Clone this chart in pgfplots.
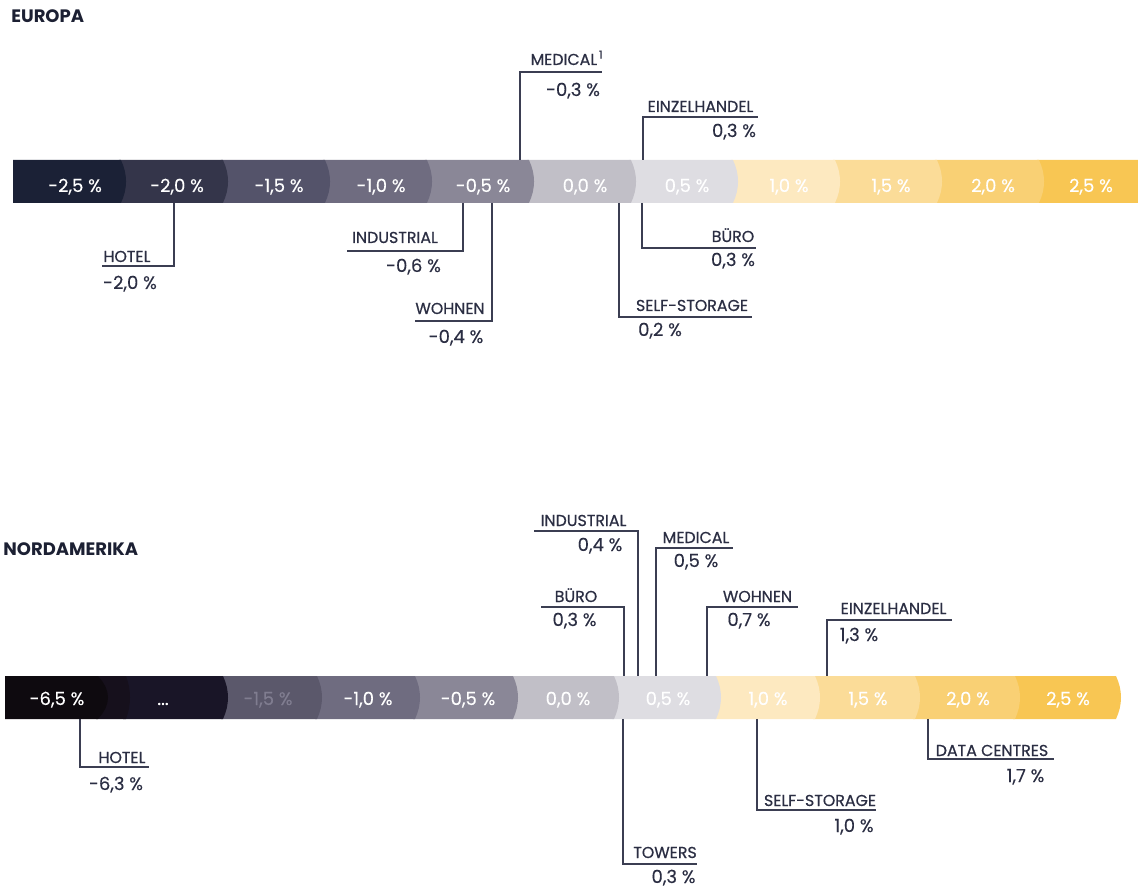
\documentclass[border=0pt]{standalone}
\usepackage{pgfplots}
\pgfplotsset{compat=1.18}
\usepackage{fontspec}
\setmainfont{Poppins}
\newfontfamily\labfam{Poppins}[FakeBold=0.6]
\newfontfamily\valfam{Poppins}[FakeBold=0.2]

\definecolor{e1}{HTML}{1B2136}
\definecolor{e2}{HTML}{34354A}
\definecolor{e3}{HTML}{54536A}
\definecolor{e4}{HTML}{6F6C80}
\definecolor{e5}{HTML}{8A8797}
\definecolor{e6}{HTML}{C1BFC7}
\definecolor{e7}{HTML}{DEDDE2}
\definecolor{e8}{HTML}{FDE9C0}
\definecolor{e9}{HTML}{FBDC98}
\definecolor{e10}{HTML}{F9D074}
\definecolor{e11}{HTML}{F8C653}
\definecolor{n1}{HTML}{0E0A0F}
\definecolor{n1b}{HTML}{16101C}
\definecolor{n2}{HTML}{191527}
\definecolor{n3}{HTML}{5B586B}
\definecolor{n4}{HTML}{757284}
\definecolor{n5}{HTML}{8D8A99}
\definecolor{labc}{HTML}{2B2E43}
\definecolor{linec}{HTML}{3B3E52}
\definecolor{ttlc}{HTML}{1C2033}
\definecolor{dimtxt}{HTML}{807D90}

\newcommand\lab{\labfam\fontsize{9.5}{10}\selectfont}
\newcommand\val{\valfam\fontsize{10.8}{11}\selectfont}
\newcommand\segf{\valfam\fontsize{10.8}{11}\selectfont}
\newcommand\ttl{\fontsize{10.8}{11}\selectfont\bfseries}

% segment: #1 left, #2 apex of curved right edge, #3 bulge, #4 top row, #5 bottom row, #6 colour
\newcommand\seg[6]{%
  \pgfmathsetmacro\SegA{#2-#3}%
  \pgfmathsetmacro\SegB{#2-0.5625*#3}%
  \pgfmathsetmacro\SegC{#2-0.25*#3}%
  \pgfmathsetmacro\SegD{#2-0.0625*#3}%
  \pgfmathsetmacro\YA{#4+0.125*(#5-#4)}%
  \pgfmathsetmacro\YB{#4+0.25*(#5-#4)}%
  \pgfmathsetmacro\YC{#4+0.375*(#5-#4)}%
  \pgfmathsetmacro\YM{#4+0.5*(#5-#4)}%
  \pgfmathsetmacro\YD{#4+0.625*(#5-#4)}%
  \pgfmathsetmacro\YE{#4+0.75*(#5-#4)}%
  \pgfmathsetmacro\YF{#4+0.875*(#5-#4)}%
  \addplot[fill=#6, draw=none, forget plot] coordinates {(#1,#4) (\SegA,#4) (\SegB,\YA) (\SegC,\YB) (\SegD,\YC) (#2,\YM) (\SegD,\YD) (\SegC,\YE) (\SegB,\YF) (\SegA,#5) (#1,#5)} --cycle;%
}

\begin{document}
\begin{tikzpicture}[S/.style={anchor=base, inner sep=0, text=white, font=\segf}]
\useasboundingbox (0,0) rectangle (682.8pt,532.8pt);

% ---------------- EUROPA ----------------
\begin{axis}[at={(0,0)}, anchor=south west, width=682.8pt, height=532.8pt,
  scale only axis, hide axis, clip=false,
  xmin=-2.8578, xmax=2.7206, ymin=0, ymax=888, y dir=reverse]
\seg{2.225}{2.76}{0.025}{160}{203}{e11}
\seg{1.725}{2.26}{0.025}{160}{203}{e10}
\seg{1.225}{1.76}{0.025}{160}{203}{e9}
\seg{0.725}{1.26}{0.025}{160}{203}{e8}
\seg{0.225}{0.76}{0.025}{160}{203}{e7}
\seg{-0.275}{0.26}{0.025}{160}{203}{e6}
\seg{-0.775}{-0.24}{0.025}{160}{203}{e5}
\seg{-1.275}{-0.74}{0.025}{160}{203}{e4}
\seg{-1.775}{-1.24}{0.025}{160}{203}{e3}
\seg{-2.275}{-1.74}{0.025}{160}{203}{e2}
\seg{-2.794}{-2.24}{0.025}{160}{203}{e1}
\node[S] at (axis cs:-2.49,192) {-2,5 \%};
\node[S] at (axis cs:-1.99,192) {-2,0 \%};
\node[S] at (axis cs:-1.49,192) {-1,5 \%};
\node[S] at (axis cs:-0.99,192) {-1,0 \%};
\node[S] at (axis cs:-0.49,192) {-0,5 \%};
\node[S] at (axis cs:0.01,192) {0,0 \%};
\node[S] at (axis cs:0.51,192) {0,5 \%};
\node[S] at (axis cs:1.01,192) {1,0 \%};
\node[S] at (axis cs:1.51,192) {1,5 \%};
\node[S] at (axis cs:2.01,192) {2,0 \%};
\node[S] at (axis cs:2.49,192) {2,5 \%};
% callout anchors on the bar (value positions as read)
\coordinate (eMed)  at (axis cs:-0.309,160);
\coordinate (eEinz) at (axis cs:0.294,160);
\coordinate (eHot)  at (axis cs:-2.005,203);
\coordinate (eInd)  at (axis cs:-0.588,203);
\coordinate (eWoh)  at (axis cs:-0.446,203);
\coordinate (eSelf) at (axis cs:0.176,203);
\coordinate (eBur)  at (axis cs:0.289,203);
\end{axis}

% ---------------- NORDAMERIKA ----------------
\begin{axis}[at={(0,0)}, anchor=south west, width=682.8pt, height=532.8pt,
  scale only axis, hide axis, clip=false,
  xmin=-2.84, xmax=2.85, ymin=0, ymax=888, y dir=reverse]
\seg{2.225}{2.765}{0.025}{676}{719}{e11}
\seg{1.725}{2.26}{0.025}{676}{719}{e10}
\seg{1.225}{1.76}{0.025}{676}{719}{e9}
\seg{0.730}{1.26}{0.025}{676}{719}{e8}
\seg{0.220}{0.765}{0.025}{676}{719}{e7}
\seg{-0.285}{0.255}{0.025}{676}{719}{e6}
\seg{-0.775}{-0.25}{0.025}{676}{719}{e5}
\seg{-1.265}{-0.74}{0.025}{676}{719}{e4}
\seg{-1.735}{-1.23}{0.025}{676}{719}{n3}
\seg{-2.225}{-1.70}{0.025}{676}{719}{n2}
\seg{-2.36}{-2.19}{0.02}{676}{719}{n1b}
\seg{-2.815}{-2.30}{0.05}{676}{719}{n1}
% broken scale: -6,5 and ... occupy the first two slots
\node[S] at (axis cs:-2.555,705) {-6,5 \%};
\node[S] at (axis cs:-2.025,705) {...};
\node[S, text=dimtxt] at (axis cs:-1.5,705) {-1,5 \%};
\node[S] at (axis cs:-1.0,705) {-1,0 \%};
\node[S] at (axis cs:-0.5,705) {-0,5 \%};
\node[S] at (axis cs:0.0,705) {0,0 \%};
\node[S] at (axis cs:0.5,705) {0,5 \%};
\node[S] at (axis cs:1.0,705) {1,0 \%};
\node[S] at (axis cs:1.5,705) {1,5 \%};
\node[S] at (axis cs:2.0,705) {2,0 \%};
\node[S] at (axis cs:2.5,705) {2,5 \%};
\coordinate (nInd)  at (axis cs:0.35,676);
\coordinate (nMed)  at (axis cs:0.44,676);
\coordinate (nBur)  at (axis cs:0.28,676);
\coordinate (nWoh)  at (axis cs:0.695,676);
\coordinate (nEinz) at (axis cs:1.295,676);
\coordinate (nHot)  at (axis cs:-2.44,719);
\coordinate (nTow)  at (axis cs:0.275,719);
\coordinate (nSelf) at (axis cs:0.945,719);
\coordinate (nData) at (axis cs:1.80,719);
\end{axis}

% ---------------- callouts and titles (pixel layout) ----------------
\begin{scope}[x=0.6pt, y=-0.6pt, yshift=532.8pt,
  ldr/.style={draw=linec, line width=1.1pt},
  L/.style={anchor=base, inner sep=0, text=labc, font=\lab},
  V/.style={anchor=base, inner sep=0, text=labc, font=\val}]
\node[anchor=base west, inner sep=0, text=ttlc, font=\ttl] at (11,23) {EUROPA};
\node[anchor=base west, inner sep=0, text=ttlc, font=\ttl] at (3,555) {NORDAMERIKA};

\draw[ldr] (eMed) |- (602,72);
\node[L] at (567,65) {MEDICAL\textsuperscript{\,1}};
\node[V] at (573,96) {-0,3 \%};
\draw[ldr] (eEinz) |- (758,117);
\node[L] at (700.5,112) {EINZELHANDEL};
\node[V] at (734,137) {0,3 \%};
\draw[ldr] (eHot) |- (102,266);
\node[L] at (127,262) {HOTEL};
\node[V] at (130,289) {-2,0 \%};
\draw[ldr] (eInd) |- (347,251);
\node[L] at (395,243) {INDUSTRIAL};
\node[V] at (413.5,272) {-0,6 \%};
\draw[ldr] (eWoh) |- (415,321);
\node[L] at (450,314) {WOHNEN};
\node[V] at (456,343) {-0,4 \%};
\draw[ldr] (eBur) |- (756,248);
\node[L] at (733,242) {BÜRO};
\node[V] at (733,266) {0,3 \%};
\draw[ldr] (eSelf) |- (752,317);
\node[L] at (692,311) {SELF-STORAGE};
\node[V] at (660,336) {0,2 \%};

\draw[ldr] (nInd) |- (534,531);
\node[L] at (583.5,526) {INDUSTRIAL};
\node[V] at (600,551) {0,4 \%};
\draw[ldr] (nMed) |- (733,548);
\node[L] at (696,543) {MEDICAL};
\node[V] at (696,567) {0,5 \%};
\draw[ldr] (nBur) |- (541,607);
\node[L] at (576,602) {BÜRO};
\node[V] at (574.5,626) {0,3 \%};
\draw[ldr] (nWoh) |- (798,607);
\node[L] at (757.5,602) {WOHNEN};
\node[V] at (749,626) {0,7 \%};
\draw[ldr] (nEinz) |- (952,620);
\node[L] at (893.5,614) {EINZELHANDEL};
\node[V] at (859,641) {1,3 \%};
\draw[ldr] (nHot) |- (149,767);
\node[L] at (122,763) {HOTEL};
\node[V] at (116,790) {-6,3 \%};
\draw[ldr] (nTow) |- (697,864);
\node[L] at (665,858) {TOWERS};
\node[V] at (673.5,883) {0,3 \%};
\draw[ldr] (nSelf) |- (876,810);
\node[L] at (820,806) {SELF-STORAGE};
\node[V] at (854,832) {1,0 \%};
\draw[ldr] (nData) |- (1054,759);
\node[L] at (992,756) {DATA CENTRES};
\node[V] at (1025.5,782) {1,7 \%};
\end{scope}
\end{tikzpicture}
\end{document}
